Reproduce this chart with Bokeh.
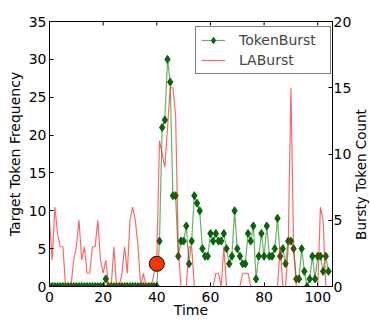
import math
from bokeh.plotting import figure
from bokeh.models import Range1d, LinearAxis, Legend, LegendItem, FixedTicker, Label
from bokeh.embed import file_html
from bokeh.resources import INLINE

# ---- data ----
time = list(range(105))
token_burst = [0] * 21 + [1] + [0] * 19 + [
    6, 21, 22, 30, 27, 12, 12, 4, 6, 6,      # 41-50
    8, 3, 6, 12, 11, 10, 5, 4, 4, 7,         # 51-60
    6, 7, 6, 6, 7, 5, 3, 4, 10, 5,           # 61-70
    4, 3, 3, 7, 6, 8, 1, 4, 7, 4,            # 71-80
    8, 4, 4, 5, 9, 4, 5, 3, 6, 6,            # 81-90
    5, 1, 1, 5, 2, 0, 1, 4, 1, 4,            # 91-100
    4, 2, 4, 2]                              # 101-104
la_burst = [
    5, 2, 6, 4, 3, 3, 0, 0, 0, 2,            # 0-9
    3, 5, 2, 3, 1, 1, 3, 3, 5, 2,            # 10-19
    1, 2, 0, 0, 3, 0, 0, 1, 3, 1,            # 20-29
    5, 6, 5, 3, 0, 1, 0, 0, 0, 1,            # 30-39
    2, 11, 10, 9, 12, 15, 15, 13, 3, 0,      # 40-49
    0, 0, 3, 3, 0, 0, 0, 0, 0, 0,            # 50-59
    0, 0, 1, 1, 0, 3, 0, 0, 0, 0,            # 60-69
    0, 0, 1, 1, 1, 0, 0, 0, 0, 0,            # 70-79
    0, 0, 0, 0, 0, 0, 3, 0, 0, 3,            # 80-89
    15, 3, 0, 0, 0, 0, 0, 0, 0, 0,           # 90-99
    0, 6, 5, 0, 0]                           # 100-104
event_time = [40]
event_freq = [3]

x_ticks = [0, 20, 40, 60, 80, 100]
left_ticks = [0, 5, 10, 15, 20, 25, 30, 35]
right_ticks = [0, 5, 10, 15, 20]

FONT = "DejaVu Sans"
X_MAX, Y_MAX, Y2_MAX = 105.5, 35, 20
FRAME_H = 266

p = figure(width=370, height=320, output_backend="svg", toolbar_location=None,
           x_range=Range1d(0, X_MAX), y_range=Range1d(0, Y_MAX),
           min_border_left=49, min_border_right=35, min_border_top=21,
           min_border_bottom=33, x_axis_location=None, y_axis_location=None)
p.extra_y_ranges = {"right": Range1d(0, Y2_MAX)}
p.xgrid.visible = False
p.ygrid.visible = False
p.outline_line_color = "black"
p.outline_line_alpha = 1
p.outline_line_width = 1


def style(ax, ticks, label=""):
    ax.ticker = FixedTicker(ticks=ticks)
    ax.minor_tick_line_color = None
    ax.major_tick_in = 4
    ax.major_tick_out = 0
    ax.major_tick_line_color = "black"
    ax.axis_line_color = "black"
    ax.major_label_text_font = FONT
    ax.major_label_text_font_size = "14px"
    ax.major_label_text_color = "black"
    ax.major_label_standoff = 3
    ax.axis_label = label
    ax.axis_label_text_font = FONT
    ax.axis_label_text_font_size = "14px"
    ax.axis_label_text_font_style = "normal"
    ax.axis_label_text_color = "black"
    ax.axis_label_standoff = 3


bottom = LinearAxis()
style(bottom, x_ticks, "Time")
bottom.major_label_standoff = 5
bottom.axis_label_standoff = -3
p.add_layout(bottom, "below")

left = LinearAxis()
style(left, left_ticks, "Target Token Frequency")
p.add_layout(left, "left")

right = LinearAxis(y_range_name="right")
style(right, right_ticks)
right.major_label_standoff = 1
p.add_layout(right, "right")

# right-hand axis title, reading bottom-to-top as in the reference
right_label = Label(x=6, y=112, x_units="screen", y_units="screen",
                    text="Bursty Token Count", angle=math.pi / 2,
                    text_align="center", text_baseline="middle",
                    text_font=FONT, text_font_size="13.5px", text_color="black")
p.add_layout(right_label, "right")

# inside tick marks along the top edge of the frame
tick_len = 4 * Y_MAX / FRAME_H
p.segment(x0=x_ticks, y0=[Y_MAX] * len(x_ticks), x1=x_ticks,
          y1=[Y_MAX - tick_len] * len(x_ticks), line_color="black", line_width=1)

gl = p.line(time, token_burst, line_color="green", line_alpha=0.6, line_width=1.2)
gs = p.scatter(time, token_burst, marker="diamond", size=8,
               fill_color="#0a640a", line_color="#0a640a")
rl = p.line(time, la_burst, line_color="red", line_alpha=0.6, line_width=1.2,
            y_range_name="right")
p.scatter(event_time, event_freq, size=15, fill_color="#ff3300",
          line_color="black", line_width=1)

legend = Legend(items=[LegendItem(label="TokenBurst", renderers=[gl, gs]),
                       LegendItem(label="LABurst", renderers=[rl])],
                location=(146, 212), margin=0, padding=5, spacing=4,
                glyph_width=24, glyph_height=16, label_height=16,
                label_standoff=14, label_width=86,
                label_text_font=FONT, label_text_font_size="14px",
                border_line_color="black", border_line_width=1,
                background_fill_color="white", background_fill_alpha=1)
p.add_layout(legend)

open("out.html", "w").write(file_html(p, INLINE))
